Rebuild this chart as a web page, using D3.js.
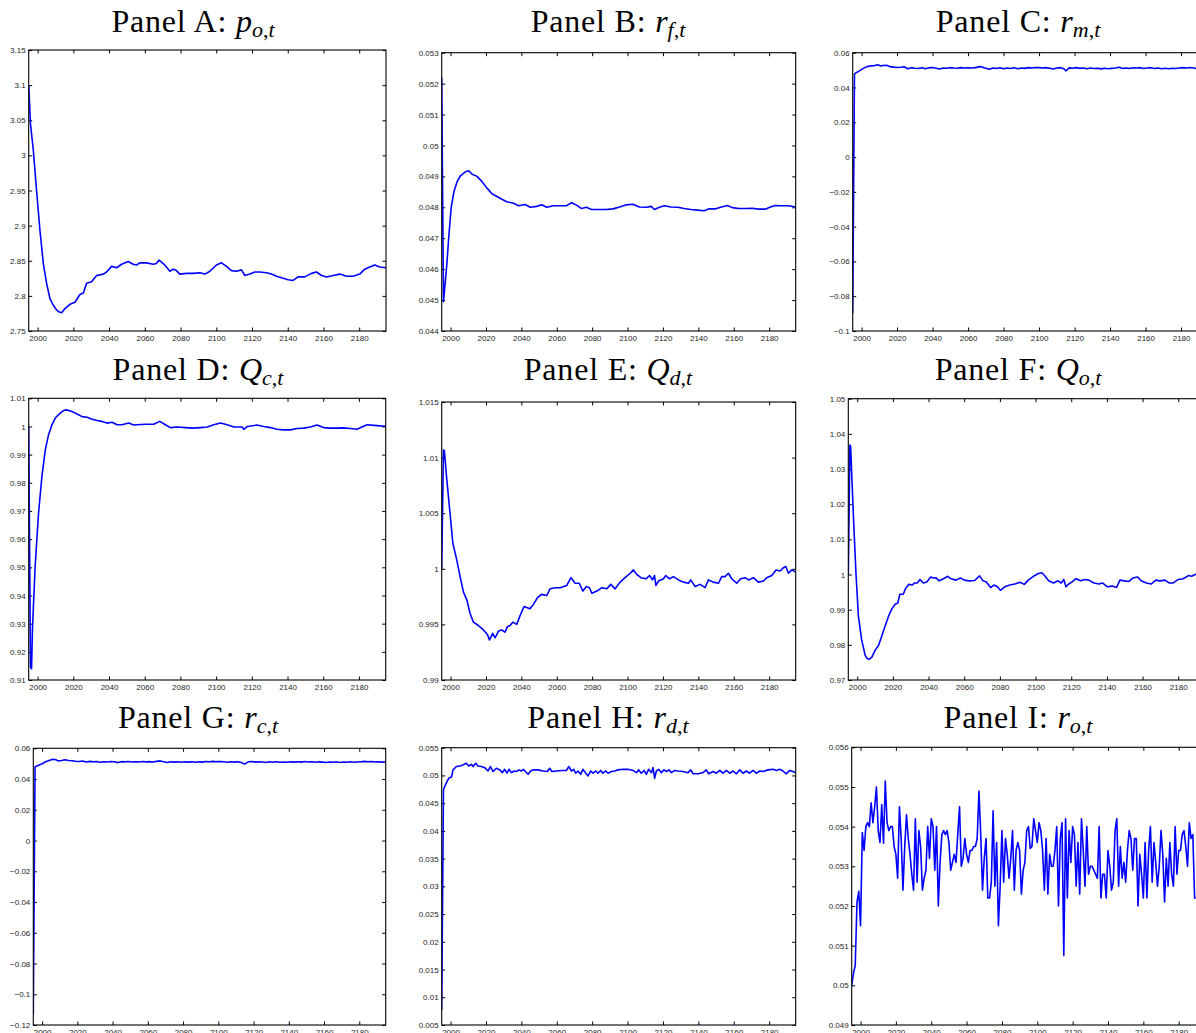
<!DOCTYPE html>
<html>
<head>
<meta charset="utf-8">
<script src="https://cdn.jsdelivr.net/npm/d3@7"></script>
<style>
  html, body { margin: 0; padding: 0; background: #fff; }
  svg { display: block; }
</style>
</head>
<body>
<svg id="chart" width="1196" height="1033"></svg>
<script>
// ---------------- DATA ----------------
const xDomain = [1995, 2195];
const xTicks = [2000, 2020, 2040, 2060, 2080, 2100, 2120, 2140, 2160, 2180];

const panelLetters = ["A", "B", "C", "D", "E", "F", "G", "H", "I"];
const titleSymbols = ["p", "r", "r", "Q", "Q", "Q", "r", "r", "r"];
const titleSubs = ["o", "f", "m", "c", "d", "o", "c", "d", "o"];

const yTicksA = [2.75, 2.8, 2.85, 2.9, 2.95, 3, 3.05, 3.1, 3.15];
const yTicksB = [0.044, 0.045, 0.046, 0.047, 0.048, 0.049, 0.05, 0.051, 0.052, 0.053];
const yTicksC = [-0.1, -0.08, -0.06, -0.04, -0.02, 0, 0.02, 0.04, 0.06];
const yTicksD = [0.91, 0.92, 0.93, 0.94, 0.95, 0.96, 0.97, 0.98, 0.99, 1, 1.01];
const yTicksE = [0.99, 0.995, 1, 1.005, 1.01, 1.015];
const yTicksF = [0.97, 0.98, 0.99, 1, 1.01, 1.02, 1.03, 1.04, 1.05];
const yTicksG = [-0.12, -0.1, -0.08, -0.06, -0.04, -0.02, 0, 0.02, 0.04, 0.06];
const yTicksH = [0.005, 0.01, 0.015, 0.02, 0.025, 0.03, 0.035, 0.04, 0.045, 0.05, 0.055];
const yTicksI = [0.049, 0.05, 0.051, 0.052, 0.053, 0.054, 0.055, 0.056];

const dataA = [[1995,3.100],[1996,3.045],[1997.6,3.007],[1999.4,2.95],[2001.3,2.893],[2003.2,2.846],[2005,2.818],[2006.9,2.796],[2008.7,2.787],[2010.6,2.78],[2012.1,2.777],[2013.5,2.776],[2015.3,2.782],[2018.1,2.788],[2020.9,2.791],[2023.7,2.802],[2025.6,2.804],[2027.4,2.818],[2030.2,2.82],[2033,2.829],[2036.8,2.831],[2038.6,2.834],[2041.4,2.842],[2044.2,2.84],[2047,2.845],[2050.7,2.849],[2053.5,2.845],[2055.4,2.844],[2057.2,2.847],[2061,2.847],[2064.7,2.845],[2066.5,2.846],[2068,2.851],[2070.3,2.846],[2072.1,2.841],[2074,2.835],[2075.9,2.838],[2077.7,2.836],[2079.6,2.831],[2083.3,2.832],[2087,2.832],[2090.8,2.833],[2093.6,2.831],[2096.4,2.835],[2100.1,2.844],[2102.9,2.847],[2105.7,2.842],[2108.5,2.836],[2111.3,2.835],[2114.1,2.837],[2116,2.829],[2118.8,2.831],[2121.6,2.834],[2124.4,2.834],[2128.1,2.833],[2130.9,2.831],[2133.7,2.828],[2137.4,2.825],[2140.2,2.823],[2143,2.822],[2145.8,2.827],[2149.5,2.827],[2153.3,2.832],[2156.1,2.834],[2158.9,2.829],[2161.7,2.827],[2165.4,2.829],[2169.1,2.831],[2172.9,2.828],[2176.6,2.828],[2180.3,2.831],[2183.1,2.838],[2185.9,2.841],[2188.7,2.844],[2191.5,2.841],[2195,2.84]];

const dataB = [[1995,0.0522],[1996,0.04495],[1997.8,0.04608],[1999,0.04705],[2000.4,0.04801],[2001.9,0.0485],[2003.7,0.04883],[2005.6,0.04902],[2008.4,0.04915],[2010.3,0.04918],[2012.2,0.04907],[2015,0.049],[2017.8,0.04883],[2020.6,0.04862],[2023.4,0.04844],[2026.2,0.04835],[2029,0.04826],[2031.8,0.04818],[2035.6,0.04813],[2038.4,0.04805],[2042.1,0.04809],[2045,0.048],[2048.7,0.04803],[2051.5,0.04808],[2054.3,0.048],[2058,0.04805],[2061.8,0.04805],[2065.5,0.04805],[2068.4,0.04815],[2071.2,0.04807],[2074,0.04796],[2076.8,0.048],[2079.6,0.04793],[2084.3,0.04793],[2088,0.04793],[2091.8,0.04795],[2095.5,0.04801],[2099.3,0.04808],[2103,0.0481],[2106.7,0.04801],[2110.5,0.048],[2113.3,0.04803],[2115.2,0.04793],[2118,0.048],[2120.8,0.04805],[2124.5,0.04801],[2128.3,0.048],[2132,0.04796],[2135.8,0.04793],[2139.5,0.04791],[2143.3,0.04789],[2146.1,0.04795],[2149.8,0.04795],[2152.6,0.048],[2156.4,0.04806],[2159.2,0.04799],[2162.9,0.04796],[2166.7,0.04796],[2170.4,0.04797],[2174.2,0.04794],[2177.9,0.04794],[2180.7,0.04801],[2183.5,0.04806],[2187.3,0.04805],[2191,0.04805],[2195,0.04801]];

const dataC = [[1995,-0.0898],[1996,0.0477],[1997,0.0485],[1999,0.0497],[2001,0.051],[2003,0.052],[2005,0.0524],[2007,0.0525],[2009,0.0531],[2011,0.0524],[2012,0.0526],[2014,0.0528],[2016,0.052],[2018,0.0517],[2020,0.0515],[2022,0.0516],[2024,0.0519],[2026,0.0508],[2028,0.0514],[2030,0.0511],[2032,0.0509],[2034,0.0513],[2036,0.0508],[2038,0.0513],[2040,0.0515],[2042,0.0511],[2044,0.0506],[2046,0.0512],[2048,0.0511],[2050,0.0514],[2052,0.0512],[2054,0.0511],[2056,0.0514],[2058,0.0512],[2060,0.0513],[2062,0.0512],[2064,0.0514],[2067,0.052],[2069,0.0513],[2072,0.0505],[2074,0.0512],[2076,0.0509],[2078,0.0513],[2080,0.0508],[2082,0.0512],[2084,0.0509],[2086,0.0513],[2088,0.0508],[2090,0.0512],[2092,0.051],[2094,0.0514],[2096,0.0512],[2098,0.0515],[2100,0.0514],[2102,0.0512],[2104,0.0514],[2106,0.0511],[2108,0.0506],[2110,0.0512],[2112,0.0514],[2114,0.0508],[2115,0.0496],[2117,0.0513],[2119,0.0511],[2121,0.0514],[2123,0.051],[2125,0.0512],[2127,0.0508],[2129,0.0512],[2131,0.0509],[2133,0.0511],[2135,0.0507],[2137,0.0511],[2139,0.0508],[2141,0.051],[2143,0.0512],[2145,0.0516],[2147,0.0509],[2149,0.0512],[2151,0.0509],[2153,0.0513],[2155,0.0512],[2157,0.0514],[2159,0.0509],[2161,0.0512],[2163,0.0514],[2165,0.0509],[2167,0.0512],[2169,0.0508],[2171,0.0511],[2173,0.0508],[2175,0.0511],[2177,0.0509],[2179,0.0512],[2181,0.0514],[2183,0.0512],[2185,0.0515],[2187,0.0512],[2189,0.0508],[2191,0.0511],[2193,0.051],[2195,0.0509]];

const dataD = [[1995,1.0],[1996,0.9145],[1996.6,0.914],[1997.1,0.928],[1998.6,0.9503],[2000.5,0.9692],[2002.4,0.9822],[2004.3,0.9917],[2006.1,0.997],[2008,1.0006],[2009.9,1.003],[2011.6,1.0041],[2013.7,1.0053],[2015.5,1.0059],[2017.4,1.0057],[2019.3,1.0053],[2022.1,1.0044],[2024.9,1.0035],[2027.7,1.0033],[2030.5,1.0026],[2033.3,1.0021],[2036.1,1.0018],[2038.9,1.0012],[2041.7,1.0015],[2044.5,1.0006],[2047.3,1.0006],[2051,1.0012],[2053.8,1.0005],[2057.6,1.0007],[2061.3,1.0008],[2065,1.0008],[2068.4,1.0018],[2071.6,1.0006],[2074.4,0.9996],[2078.2,0.9998],[2082.8,0.9996],[2086.6,0.9994],[2091.3,0.9996],[2095,0.9998],[2098.7,1.0006],[2102.5,1.0012],[2106.2,1.0006],[2110,0.9998],[2112.8,0.9998],[2114.6,0.9998],[2115.5,0.999],[2117.5,1.0],[2122.9,1.0005],[2126.6,1.0],[2130.4,0.9996],[2134.1,0.999],[2137.8,0.9988],[2141.6,0.9988],[2145.3,0.9993],[2149,0.9994],[2152.8,0.9998],[2156.5,1.0005],[2160.2,0.9996],[2164,0.9994],[2167.7,0.9994],[2171.4,0.9995],[2175.2,0.9993],[2178.9,0.999],[2181.7,0.9998],[2184.5,1.0006],[2188.3,1.0004],[2192,1.0002],[2195,1.0001]];

const dataE = [[1995,1.0],[1996,1.0107],[1996.5,1.0106],[1997.9,1.008],[1999.7,1.005],[2001.3,1.0023],[2003.5,1.0008],[2005.4,0.9993],[2007.3,0.9979],[2009.2,0.9972],[2011,0.996],[2012.9,0.9952],[2015.7,0.9949],[2018.6,0.9945],[2020.8,0.9941],[2022,0.9936],[2023.8,0.9942],[2025.2,0.9938],[2027.1,0.9944],[2028.9,0.9945],[2030.8,0.9943],[2032.1,0.9948],[2033.6,0.9949],[2035.2,0.9952],[2037.4,0.995],[2039.3,0.9958],[2041.5,0.9966],[2043.4,0.9965],[2044.9,0.9964],[2046.8,0.9968],[2049.1,0.9974],[2051.5,0.9977],[2054.4,0.9976],[2056.2,0.9982],[2059.1,0.9983],[2061.9,0.9983],[2065.7,0.9985],[2068,0.9992],[2070.4,0.9987],[2072.7,0.9987],[2074.8,0.998],[2076.6,0.9984],[2078.5,0.9983],[2079.8,0.9978],[2082.7,0.998],[2085.5,0.9983],[2088.3,0.9982],[2090.5,0.9986],[2093,0.9982],[2095.8,0.9988],[2098.6,0.9992],[2101.5,0.9996],[2103.3,0.9999],[2105.2,0.9995],[2107.5,0.9992],[2110.5,0.9991],[2112.4,0.9994],[2114.1,0.999],[2115.2,0.9994],[2116,0.9985],[2117.5,0.9989],[2120.3,0.9991],[2121.6,0.9994],[2123.7,0.9991],[2125.9,0.9993],[2128.8,0.999],[2131.6,0.9988],[2134.4,0.9987],[2135.7,0.999],[2138.2,0.9984],[2141,0.9986],[2143.8,0.9983],[2145.7,0.999],[2148.5,0.9988],[2151.4,0.9987],[2153.2,0.9993],[2155.1,0.9993],[2157,0.9996],[2158.9,0.9991],[2161.7,0.9987],[2163.9,0.9991],[2166.4,0.9992],[2168.3,0.999],[2171.1,0.9992],[2173.9,0.9988],[2176.8,0.9989],[2178.6,0.9992],[2181.5,0.9994],[2183.9,0.9999],[2186.2,0.9998],[2188.1,1.0001],[2189.4,1.0002],[2190.9,0.9996],[2192.8,0.9999],[2195,0.9997]];

const dataF = [[1995,1.0],[1995.9,1.0368],[1996.3,1.0365],[1997.8,1.0174],[1999.3,1.0003],[2000.7,0.988],[2002.5,0.9814],[2004.4,0.9771],[2005.4,0.9762],[2006.7,0.9759],[2008.2,0.9765],[2010.1,0.9785],[2012,0.9799],[2013.9,0.9827],[2015.8,0.9856],[2017.6,0.9882],[2019.5,0.9903],[2021.4,0.9916],[2022.7,0.9918],[2023.9,0.9944],[2025.8,0.9944],[2027.1,0.996],[2029,0.9972],[2030.8,0.997],[2032.2,0.9976],[2033.7,0.9976],[2035.2,0.9986],[2037.1,0.9976],[2039,0.9979],[2041.2,0.9993],[2042.7,0.999],[2044.1,0.9991],[2045.9,0.9982],[2048.4,0.9988],[2050.7,0.9995],[2052.5,0.9988],[2055.4,0.9984],[2057.8,0.999],[2060.1,0.9984],[2062.9,0.9982],[2065.8,0.9983],[2068.6,0.9996],[2070.5,0.9982],[2072.4,0.9979],[2074.8,0.9963],[2076.7,0.997],[2078.6,0.9965],[2080.3,0.9955],[2082.7,0.9965],[2085.6,0.997],[2088.4,0.9973],[2091.2,0.9978],[2093.7,0.9972],[2095.9,0.9984],[2098.8,0.9995],[2101.6,1.0003],[2103.5,1.0005],[2105.4,0.9995],[2107.3,0.9982],[2110.1,0.9976],[2112.5,0.9982],[2114.4,0.9976],[2115.8,0.9986],[2117.1,0.9965],[2118.6,0.9973],[2120.5,0.9979],[2122.7,0.9988],[2125.2,0.9982],[2127.6,0.9986],[2129.9,0.9984],[2132.7,0.9976],[2135.6,0.9973],[2137.5,0.9976],[2140.3,0.9965],[2143.1,0.9967],[2145.4,0.9963],[2147.3,0.9984],[2149.7,0.9982],[2152.2,0.998],[2154.5,0.999],[2157.3,0.9993],[2159.2,0.9982],[2162.1,0.9976],[2164.9,0.9973],[2167.4,0.9984],[2169.6,0.9982],[2172.5,0.9984],[2174.9,0.9976],[2177.2,0.9976],[2180,0.9986],[2182.8,0.9988],[2185.7,0.9997],[2187.5,0.9995],[2190.7,1.0003],[2191.8,0.9991],[2195,0.9993]];

const dataG = [[1995,-0.113],[1996,0.048],[1997,0.0485],[1998,0.049],[2000,0.050],[2002,0.0512],[2004,0.052],[2006,0.0528],[2008,0.0525],[2009,0.0518],[2011,0.0521],[2013,0.0526],[2015,0.0521],[2017,0.0519],[2019,0.0516],[2021,0.0514],[2023,0.0517],[2025,0.0511],[2027,0.0515],[2029,0.0512],[2031,0.0514],[2033,0.0509],[2035,0.0513],[2037,0.0511],[2039,0.0514],[2041,0.0512],[2043,0.0507],[2045,0.0513],[2047,0.0512],[2049,0.0514],[2051,0.0511],[2053,0.0513],[2055,0.0511],[2057,0.0514],[2059,0.0512],[2061,0.0513],[2063,0.0511],[2065,0.0515],[2067,0.0518],[2069,0.0512],[2071,0.0508],[2073,0.0513],[2075,0.051],[2077,0.0513],[2079,0.0509],[2081,0.0512],[2083,0.051],[2085,0.0513],[2087,0.0509],[2089,0.0512],[2091,0.051],[2093,0.0514],[2095,0.0512],[2097,0.0515],[2099,0.0513],[2101,0.0514],[2103,0.0512],[2105,0.0509],[2107,0.0513],[2109,0.051],[2111,0.0513],[2113,0.0507],[2115,0.0497],[2117,0.0512],[2119,0.0514],[2121,0.051],[2123,0.0513],[2125,0.0511],[2127,0.0508],[2129,0.0512],[2131,0.0509],[2133,0.0512],[2135,0.0509],[2137,0.0511],[2139,0.0509],[2141,0.0512],[2143,0.051],[2145,0.0513],[2147,0.051],[2149,0.0514],[2151,0.0511],[2153,0.0512],[2155,0.0509],[2157,0.0512],[2159,0.051],[2161,0.0508],[2163,0.0511],[2165,0.0509],[2167,0.0512],[2169,0.0508],[2171,0.0511],[2173,0.0509],[2175,0.0512],[2177,0.0509],[2179,0.0511],[2181,0.0513],[2183,0.0515],[2185,0.0512],[2187,0.0514],[2189,0.0511],[2191,0.0513],[2193,0.051],[2195,0.0511]];

const dataH = [[1995,0.0077],[1996,0.0474],[1996.3,0.0477],[1997.6,0.0486],[1999,0.0495],[2000.5,0.0497],[2001.4,0.051],[2003.3,0.0516],[2005.2,0.0517],[2007,0.0519],[2008.9,0.0522],[2010.3,0.0517],[2011.8,0.052],[2012.7,0.0516],[2014.2,0.0522],[2015.5,0.0517],[2017.4,0.0516],[2019.3,0.0514],[2021.2,0.0508],[2022.5,0.0516],[2024,0.0507],[2025.9,0.0513],[2027.8,0.051],[2029.3,0.0505],[2030.6,0.0511],[2031.9,0.0504],[2033,0.0511],[2034.4,0.0505],[2035.9,0.0508],[2037.2,0.0507],[2038.7,0.051],[2040,0.0508],[2041.1,0.0511],[2042.3,0.0507],[2043.8,0.0502],[2045.3,0.0508],[2046.6,0.051],[2049.4,0.051],[2052.3,0.0508],[2054.7,0.0507],[2056,0.0513],[2057.3,0.0507],[2059.8,0.0508],[2062.6,0.0509],[2065.4,0.0509],[2066.9,0.0516],[2068.3,0.0508],[2069.6,0.0511],[2070.7,0.0504],[2072,0.0508],[2073.5,0.0502],[2074.8,0.0511],[2076.4,0.0504],[2077.7,0.0499],[2079.2,0.0508],[2080.5,0.0504],[2082,0.0508],[2083.3,0.0504],[2084.8,0.0509],[2086.1,0.0504],[2087.7,0.0508],[2089,0.0504],[2090.9,0.0507],[2092.7,0.0508],[2094.6,0.051],[2097.4,0.0511],[2100.3,0.0511],[2103.1,0.0509],[2105,0.0505],[2106.3,0.051],[2107.8,0.0504],[2109.3,0.0509],[2110.6,0.0502],[2111.9,0.0511],[2113.5,0.0505],[2114.4,0.0514],[2115.3,0.0495],[2116.3,0.0508],[2117.6,0.0511],[2119.1,0.0505],[2120.6,0.051],[2121.9,0.0507],[2123.4,0.051],[2124.8,0.0505],[2126.6,0.0509],[2128.5,0.0508],[2131.3,0.0507],[2134.2,0.0505],[2135.7,0.051],[2137,0.0503],[2139.8,0.0503],[2142.6,0.0505],[2144.5,0.051],[2145.8,0.0503],[2148.3,0.0507],[2150.2,0.0504],[2152.1,0.0509],[2153.9,0.0504],[2155.8,0.0509],[2157.7,0.0504],[2159.6,0.0508],[2161.5,0.0503],[2163.4,0.051],[2165.2,0.0504],[2167.1,0.0508],[2169,0.0504],[2170.9,0.0509],[2172.8,0.0504],[2174.7,0.0508],[2176.5,0.0507],[2179.4,0.051],[2182.2,0.0511],[2184.1,0.0509],[2186,0.0511],[2187.8,0.0508],[2189.7,0.0503],[2191.6,0.0509],[2193.5,0.0507],[2195,0.0505]];

// Panel I: one value per year starting at 1995
const startYearI = 1995;
const valuesI = [0.0500,0.0503,0.0505,0.0521,0.05237,0.0515,0.05385,0.0534,0.0540,0.0541,
0.0540,0.0546,0.0541,0.0545,0.0550,0.0539,0.0536,0.05456,0.05358,0.05515,
0.0541,0.0539,0.0540,0.0540,0.0535,0.0533,0.0527,0.0545,0.0537,0.0524,
0.0535,0.0543,0.0537,0.0533,0.0528,0.0524,0.0542,0.0526,0.0539,0.0535,
0.0524,0.0527,0.0529,0.0540,0.0532,0.0542,0.0540,0.0529,0.0540,0.0520,
0.0531,0.0538,0.0539,0.0538,0.0539,0.0536,0.0529,0.0531,0.0533,0.0531,
0.0538,0.0545,0.0530,0.0532,0.0537,0.0533,0.0531,0.0534,0.0534,0.0535,
0.0535,0.0537,0.0549,0.0538,0.0524,0.0532,0.0537,0.0522,0.0522,0.0526,
0.0544,0.0525,0.0536,0.0515,0.0525,0.0539,0.0526,0.0537,0.0533,0.0527,
0.0532,0.0539,0.0524,0.0534,0.0536,0.0534,0.0523,0.0529,0.0531,0.0539,
0.0540,0.05345,0.0535,0.0542,0.0539,0.0536,0.0541,0.0539,0.0534,0.0524,
0.0537,0.0523,0.0533,0.0530,0.0530,0.0534,0.0540,0.0520,0.0537,0.0541,
0.05075,0.0542,0.0522,0.0539,0.0531,0.0540,0.0538,0.0525,0.0536,0.0523,
0.0542,0.0534,0.0525,0.0540,0.0528,0.0530,0.0530,0.0529,0.0528,0.0527,
0.0540,0.0522,0.0528,0.0528,0.0522,0.0534,0.0530,0.0524,0.0526,0.0539,
0.0542,0.0525,0.0535,0.0527,0.0531,0.0526,0.0534,0.0539,0.0537,0.0529,
0.0537,0.0537,0.0520,0.0533,0.0528,0.0522,0.0536,0.0522,0.0534,0.0540,
0.0526,0.0536,0.0531,0.0525,0.0530,0.0539,0.0533,0.0521,0.0532,0.0525,
0.0536,0.0528,0.0525,0.0540,0.0528,0.0534,0.0534,0.0538,0.0539,0.0535,
0.0530,0.0541,0.0537,0.0538,0.0522,0.0522];
const dataI = valuesI.map((v, i) => [startYearI + i, v]);

// ---------------- LAYOUT ----------------
const panels = [
  { data: dataA, yTicks: yTicksA, box: [28.7, 386, 50, 331],     tx: 193, ty: 31.7 },
  { data: dataB, yTicks: yTicksB, box: [441.7, 795.7, 52.7, 331], tx: 608, ty: 31.7 },
  { data: dataC, yTicks: yTicksC, box: [852.7, 1207.7, 52.7, 331], tx: 1018, ty: 31.7 },
  { data: dataD, yTicks: yTicksD, box: [28.7, 385.7, 398.3, 680], tx: 198, ty: 380 },
  { data: dataE, yTicks: yTicksE, box: [441.7, 795.7, 402, 680],  tx: 608, ty: 380 },
  { data: dataF, yTicks: yTicksF, box: [848.3, 1205, 398.7, 680], tx: 1018, ty: 380 },
  { data: dataG, yTicks: yTicksG, box: [33.3, 385.7, 748.3, 1025], tx: 198, ty: 728.3 },
  { data: dataH, yTicks: yTicksH, box: [441.7, 795.7, 747.7, 1025], tx: 608, ty: 727.5 },
  { data: dataI, yTicks: yTicksI, box: [851.7, 1205.2, 747.3, 1025], tx: 1018, ty: 727.5 }
];

const svg = d3.select("#chart");
svg.append("rect").attr("width", 1196).attr("height", 1033).attr("fill", "#fff");

const fmt = d3.format("~g");
const tickFont = "'Liberation Sans', Arial, Helvetica, sans-serif";
const titleFont = "'Liberation Serif', 'Times New Roman', 'DejaVu Serif', serif";
const TICK = 3.5;

panels.forEach((p, i) => {
  const [L, R, T, B] = p.box;
  const ys = p.yTicks;
  const x = d3.scaleLinear().domain(xDomain).range([L, R]);
  const y = d3.scaleLinear().domain([ys[0], ys[ys.length - 1]]).range([B, T]);
  const g = svg.append("g");

  const clipId = "clip" + i;
  svg.append("clipPath").attr("id", clipId)
    .append("rect").attr("x", L).attr("y", T).attr("width", R - L).attr("height", B - T);

  // Axes (ticks pointing inward)
  const styleAxis = (sel, showLabels) => {
    sel.select(".domain").remove();
    sel.selectAll(".tick line").attr("stroke", "#000").attr("stroke-width", 1);
    sel.selectAll(".tick text")
      .attr("fill", "#262626")
      .style("font-family", tickFont)
      .style("font-size", "8px");
    if (!showLabels) sel.selectAll(".tick text").remove();
  };

  g.append("g").attr("transform", `translate(0,${B})`)
    .call(d3.axisBottom(x).tickValues(xTicks).tickSize(-TICK).tickPadding(4).tickFormat(d3.format("d")))
    .call(s => styleAxis(s, true));
  g.append("g").attr("transform", `translate(0,${T})`)
    .call(d3.axisTop(x).tickValues(xTicks).tickSize(-TICK))
    .call(s => styleAxis(s, false));
  g.append("g").attr("transform", `translate(${L},0)`)
    .call(d3.axisLeft(y).tickValues(ys).tickSize(-TICK).tickPadding(3).tickFormat(fmt))
    .call(s => styleAxis(s, true));
  g.append("g").attr("transform", `translate(${R},0)`)
    .call(d3.axisRight(y).tickValues(ys).tickSize(-TICK))
    .call(s => styleAxis(s, false));

  // Series line
  const line = d3.line().x(d => x(d[0])).y(d => y(d[1]));
  g.append("path")
    .datum(p.data)
    .attr("clip-path", `url(#${clipId})`)
    .attr("fill", "none")
    .attr("stroke", "#0000ff")
    .attr("stroke-width", 1.6)
    .attr("stroke-linejoin", "round")
    .attr("d", line);

  // Axes box
  g.append("rect")
    .attr("x", L).attr("y", T).attr("width", R - L).attr("height", B - T)
    .attr("fill", "none").attr("stroke", "#000").attr("stroke-width", 1.1);

  // Title
  const t = svg.append("text")
    .attr("x", p.tx).attr("y", p.ty)
    .attr("text-anchor", "middle")
    .style("font-family", titleFont)
    .style("font-size", "32px")
    .attr("fill", "#000");
  t.append("tspan").style("letter-spacing", "0.8px").text(`Panel ${panelLetters[i]}: `);
  t.append("tspan").style("font-style", "italic").text(titleSymbols[i]);
  const sub = t.append("tspan").attr("dy", 5).style("font-size", "22px");
  sub.append("tspan").style("font-style", "italic").text(titleSubs[i]);
  sub.append("tspan").text(",");
  sub.append("tspan").style("font-style", "italic").text("t");
});
</script>
</body>
</html>
